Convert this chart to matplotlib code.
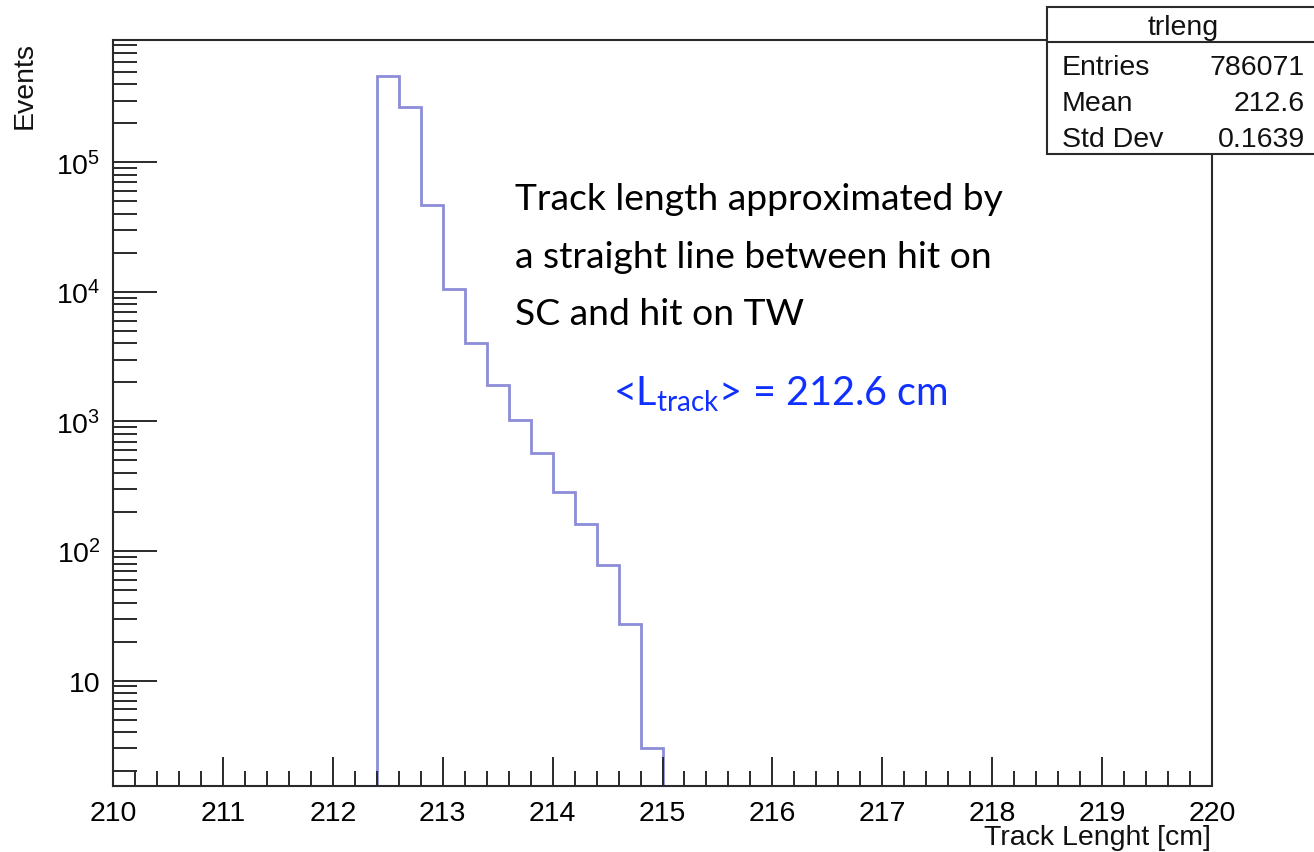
import matplotlib
matplotlib.use("Agg")
import matplotlib.pyplot as plt
from matplotlib.ticker import FixedLocator, LogLocator, NullFormatter, MultipleLocator
from matplotlib.patches import Rectangle
from matplotlib.lines import Line2D

# Histogram of reconstructed track length (0.2 cm bins)
bin_edges = [212.4, 212.6, 212.8, 213.0, 213.2, 213.4, 213.6, 213.8,
             214.0, 214.2, 214.4, 214.6, 214.8, 215.0]
counts = [465000, 268000, 46500, 10600, 4000, 1900, 1030,
          575, 285, 162, 78, 27.5, 3.0]

x_range = (210, 220)
y_range = (1.535, 8.8e5)
x_ticks = [210, 211, 212, 213, 214, 215, 216, 217, 218, 219, 220]
y_ticks = [10, 1e2, 1e3, 1e4, 1e5]
y_tick_labels = ["10", r"$\mathregular{10^{2}}$", r"$\mathregular{10^{3}}$",
                 r"$\mathregular{10^{4}}$", r"$\mathregular{10^{5}}$"]

stats_title = "trleng"
stats_rows = [("Entries", "786071"), ("Mean", "212.6"), ("Std Dev", "0.1639")]

note_lines = ["Track length approximated by",
              "a straight line between hit on",
              "SC and hit on TW"]

plt.rcParams["font.family"] = ["Liberation Sans", "DejaVu Sans"]
plt.rcParams["mathtext.fontset"] = "custom"
plt.rcParams["mathtext.rm"] = "Liberation Sans"

W, H = 1314, 853
fig = plt.figure(figsize=(W / 100, H / 100), dpi=100)
fig.patch.set_facecolor("white")

ax_l, ax_r, ax_t, ax_b = 113, 1212, 41, 787
ax = fig.add_axes([ax_l / W, 1 - ax_b / H, (ax_r - ax_l) / W, (ax_b - ax_t) / H])

ax.stairs(counts, bin_edges, baseline=1.0, color="#8c8cd8", lw=2.0)

ax.set_yscale("log")
ax.set_xlim(*x_range)
ax.set_ylim(*y_range)

# axis decoration in ROOT style: ticks inside, left and bottom only
for side in ["left", "bottom", "top", "right"]:
    ax.spines[side].set_linewidth(1.5)
    ax.spines[side].set_color("#2a2a2a")

ax.xaxis.set_major_locator(FixedLocator(x_ticks))
ax.xaxis.set_minor_locator(MultipleLocator(0.2))
ax.set_xticklabels([str(t) for t in x_ticks])

ax.yaxis.set_major_locator(FixedLocator(y_ticks))
ax.set_yticklabels(y_tick_labels)
ax.yaxis.set_minor_locator(LogLocator(base=10, subs=range(2, 10), numticks=20))
ax.yaxis.set_minor_formatter(NullFormatter())

ax.tick_params(axis="x", which="major", direction="in", length=21, width=1.4,
               color="#2a2a2a", labelsize=20.5, pad=10, top=False)
ax.tick_params(axis="x", which="minor", direction="in", length=11, width=1.4,
               color="#2a2a2a", top=False)
ax.tick_params(axis="y", which="major", direction="in", length=32, width=1.4,
               color="#2a2a2a", labelsize=20.5, pad=9, right=False)
ax.tick_params(axis="y", which="minor", direction="in", length=17, width=1.4,
               color="#2a2a2a", right=False)

fig.text(1211 / W, 1 - 838 / H, "Track Lenght [cm]", ha="right", va="center",
         fontsize=20.5, color="#111111")
fig.text(25 / W, 1 - 42 / H, "Events", ha="center", va="top", rotation=90,
         fontsize=20.5, color="#111111")

# statistics box
bx_l, bx_t, bx_b, bx_sep = 1047, 8, 155, 43
fig.patches.append(Rectangle((bx_l / W, 1 - bx_b / H), (W + 10 - bx_l) / W,
                             (bx_b - bx_t) / H, transform=fig.transFigure,
                             facecolor="white", edgecolor="#2a2a2a", lw=1.5,
                             zorder=5))
fig.lines.append(Line2D([bx_l / W, 1.01], [1 - bx_sep / H, 1 - bx_sep / H],
                        transform=fig.transFigure, color="#2a2a2a", lw=1.5,
                        zorder=6))
fig.text(1183 / W, 1 - 28 / H, stats_title, ha="center", va="center",
         fontsize=20.5, color="#111111", zorder=7)
row_y = [68, 104, 140]
for (name, val), yy in zip(stats_rows, row_y):
    fig.text(1062 / W, 1 - yy / H, name, ha="left", va="center",
             fontsize=20.5, color="#111111", zorder=7)
    fig.text(1305 / W, 1 - yy / H, val, ha="right", va="center",
             fontsize=20.5, color="#111111", zorder=7)

# annotation text
note_font = ["Lato", "DejaVu Sans"]
for i, line in enumerate(note_lines):
    fig.text(515 / W, 1 - (210 + 57.5 * i) / H, line, ha="left",
             va="baseline", fontsize=26.8, family=note_font, color="black")

fig.text(613 / W, 1 - 405 / H,
         r"<L$_{\mathregular{track}}$> = 212.6 cm", ha="left", va="baseline",
         fontsize=28.5, family=note_font, color="#1030ff")

fig.savefig("out.png", dpi=100, facecolor="white")
